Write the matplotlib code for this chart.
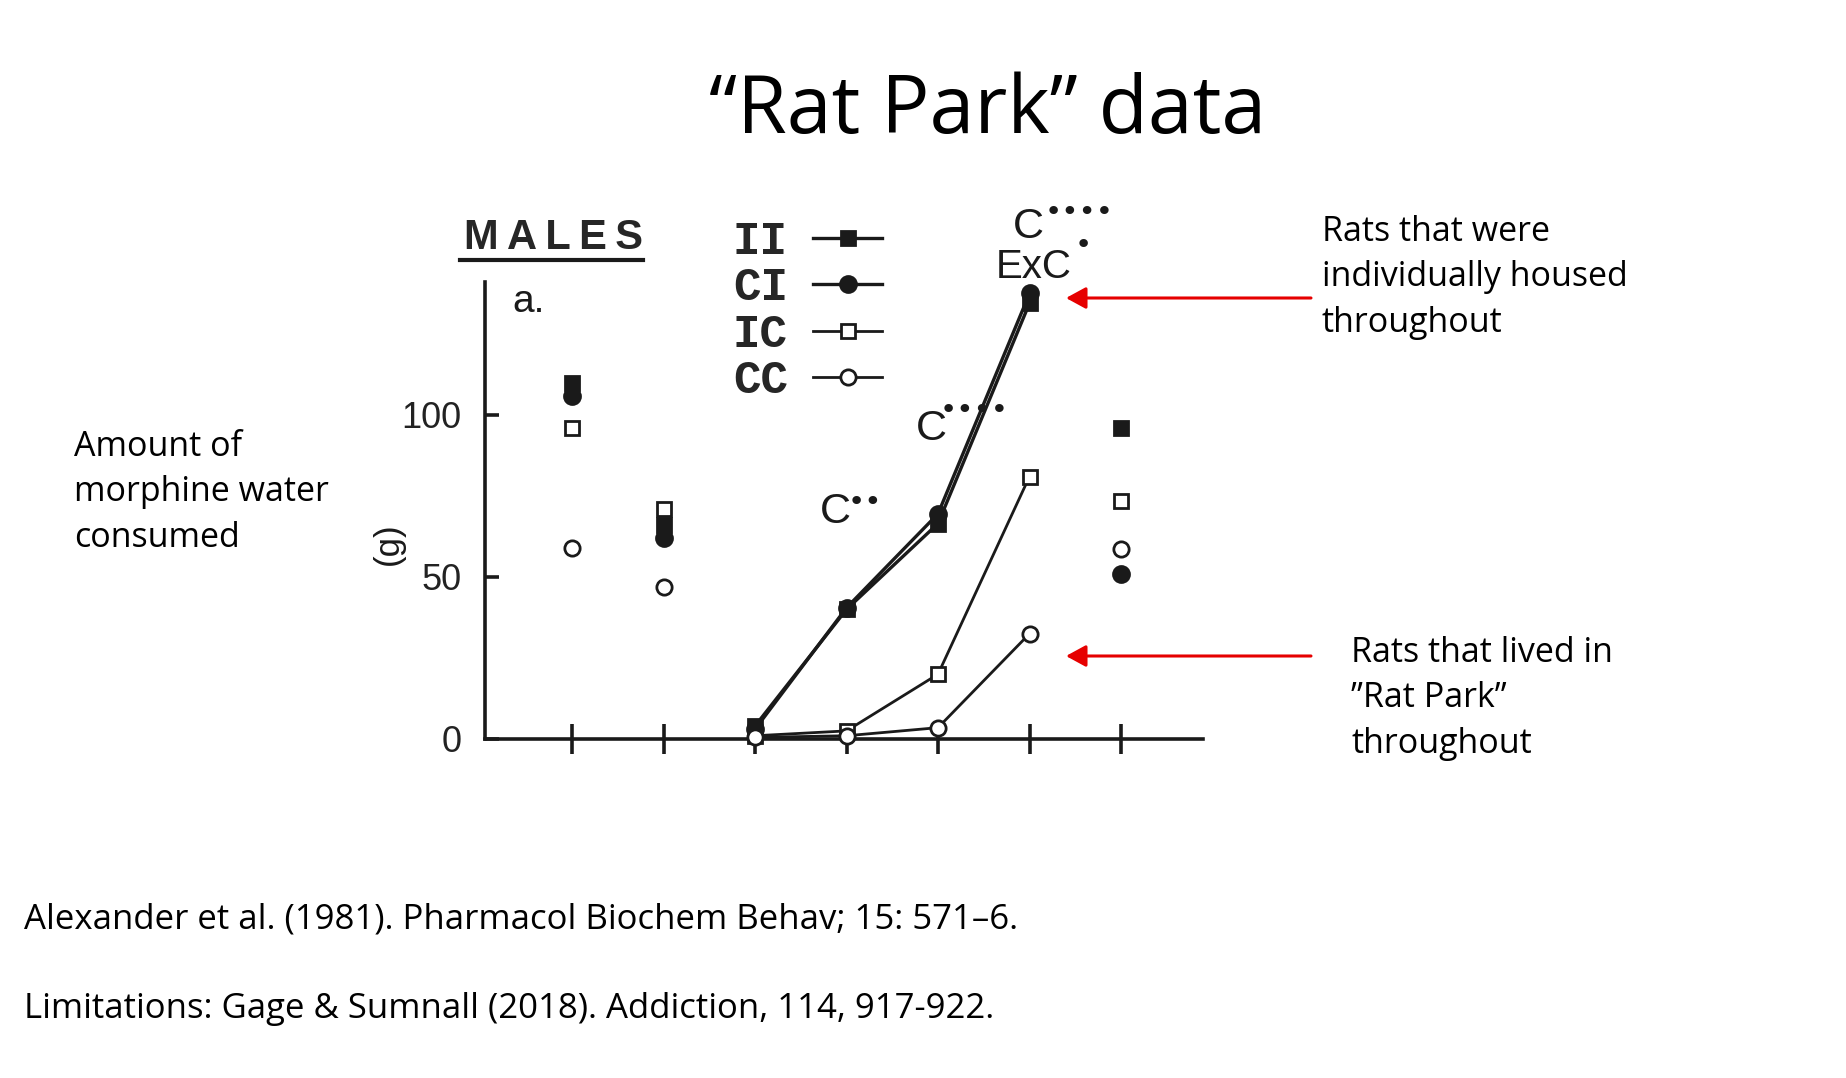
import numpy as np
import matplotlib
matplotlib.use("Agg")
import matplotlib.pyplot as plt
from matplotlib.lines import Line2D
from matplotlib.patches import FancyArrowPatch

# measurement days on the x axis
days = [1, 2, 3, 4, 5, 6, 7]
groups = ["II", "CI", "IC", "CC"]
# morphine water consumed (g)
ii_vals = [110, 66, 4, 40, 66.5, 134.5, 96]
ci_vals = [106, 62, 3, 40.5, 69.5, 137.5, 51]
ic_vals = [96, 71, 1, 2.5, 20, 81, 73.5]
cc_vals = [59, 47, 0.5, 1, 3.5, 32.5, 58.5]
yticks = [0, 50, 100]

W, H = 1846, 1078
SLIDE_FONT = ["Open Sans", "DejaVu Sans"]
SCAN_FONT = ["Liberation Sans", "DejaVu Sans"]
INK = "#1a1a1a"


def fx(px):
    return px / W


def fy(py):
    return 1 - py / H


fig = plt.figure(figsize=(W / 100, H / 100), dpi=100)
fig.patch.set_facecolor("white")

# --- axes placed where the scanned plot sits on the slide
x0_px, xu = 480.5, 91.5
y0_px, yu = 739, 3.24
xlo, xhi = 0.05, 7.9
ylo, yhi = 0, 141
ax = fig.add_axes([fx(x0_px + xlo * xu), fy(y0_px),
                   (xhi - xlo) * xu / W, (yhi - ylo) * yu / H])
ax.set_xlim(xlo, xhi)
ax.set_ylim(ylo, yhi)
ax.set_facecolor("none")
for s in ["top", "right"]:
    ax.spines[s].set_visible(False)
for s in ["left", "bottom"]:
    ax.spines[s].set_linewidth(2.6)
    ax.spines[s].set_color(INK)

ax.set_xticks(days)
ax.set_xticklabels([])
ax.tick_params(axis="x", direction="inout", length=22, width=2.6, color=INK)
ax.set_yticks(yticks)
ax.set_yticklabels([str(v) for v in yticks], family=SCAN_FONT)
ax.tick_params(axis="y", direction="in", length=10, width=2.6, color=INK,
               pad=17, labelsize=26, labelcolor="#222222")

series = {"II": ii_vals, "CI": ci_vals, "IC": ic_vals, "CC": cc_vals}
style = {
    "II": dict(marker="s", mfc=INK, lw=2.4, ms=10.5, z=5),
    "CI": dict(marker="o", mfc=INK, lw=2.4, ms=11.5, z=5),
    "IC": dict(marker="s", mfc="white", lw=2.0, ms=10, z=6),
    "CC": dict(marker="o", mfc="white", lw=2.0, ms=11, z=6),
}
x = np.array(days)
joined = slice(2, 6)
lone = [0, 1, 6]
handles = []
for g in groups:
    v = np.array(series[g], dtype=float)
    st = style[g]
    h, = ax.plot(x[joined], v[joined], color=INK, lw=st["lw"], marker=st["marker"],
                 mfc=st["mfc"], mec=INK, mew=2, ms=st["ms"], clip_on=False,
                 zorder=st["z"], label=g)
    ax.plot(x[lone], v[lone], ls="none", marker=st["marker"], mfc=st["mfc"],
            mec=INK, mew=2, ms=st["ms"], clip_on=False, zorder=st["z"])
    handles.append(h)

leg = fig.legend(handles=handles, labels=groups, loc="upper left",
                 bbox_to_anchor=(fx(733), fy(220)), frameon=False,
                 markerfirst=False, borderpad=0, borderaxespad=0,
                 handlelength=1.5, handletextpad=0.55, labelspacing=0.05,
                 prop=dict(family=["Liberation Mono", "DejaVu Sans Mono"],
                           size=33, weight="bold"))
for t in leg.get_texts():
    t.set_color("#262626")

# --- scanned figure annotations
fig.text(fx(464), fy(249), "M\u2009A\u2009L\u2009E\u2009S", family=SCAN_FONT,
         fontsize=30, fontweight="bold", color="#262626", va="baseline", ha="left")
fig.add_artist(Line2D([fx(460), fx(643)], [fy(260), fy(260)], color=INK, lw=3))
fig.text(fx(512), fy(312), "a.", family=SCAN_FONT, fontsize=28, color=INK,
         va="baseline", ha="left")
fig.text(fx(388), fy(544), "(g)", family=SCAN_FONT, fontsize=25, color=INK,
         rotation=90, va="center", ha="center")

DOT_FONT = ["DejaVu Sans"]
notes = [
    # (text, left px, baseline px, size)
    ("C", 820, 523, 31),
    ("C", 916, 440, 31),
    ("C", 1013, 238, 31),
    ("ExC", 996, 278, 29),
]
for txt, lx, by, sz in notes:
    fig.text(fx(lx), fy(by), txt, family=SCAN_FONT, fontsize=sz, color=INK,
             va="baseline", ha="left")
stars = [
    # (dots, left px, centre px)
    ("\u2022\u2022", 848, 499),
    ("\u2022\u2022\u2022\u2022", 940, 407),
    ("\u2022\u2022\u2022\u2022", 1045, 209),
    ("\u2022", 1075, 242),
]
for txt, lx, cy in stars:
    fig.text(fx(lx), fy(cy), txt, family=DOT_FONT, fontsize=21, color=INK,
             va="center_baseline", ha="left")

# --- slide text
fig.text(fx(988), fy(133), "\u201cRat Park\u201d data", family=SLIDE_FONT,
         fontsize=58, color="black", ha="center", va="baseline")
fig.text(fx(74), fy(547), "Amount of\nmorphine water\nconsumed", family=SLIDE_FONT,
         fontsize=24.5, color="black", ha="left", va="baseline", linespacing=1.45)
fig.text(fx(1322), fy(332), "Rats that were\nindividually housed\nthroughout",
         family=SLIDE_FONT, fontsize=24.5, color="black", ha="left", va="baseline",
         linespacing=1.45)
fig.text(fx(1351), fy(753), "Rats that lived in\n\u201dRat Park\u201d\nthroughout",
         family=SLIDE_FONT, fontsize=24.5, color="black", ha="left", va="baseline",
         linespacing=1.45)
fig.text(fx(24), fy(928), "Alexander et al. (1981). Pharmacol Biochem Behav; 15: 571\u20136.",
         family=SLIDE_FONT, fontsize=25, color="black", ha="left", va="baseline")
fig.text(fx(24), fy(1018), "Limitations: Gage & Sumnall (2018). Addiction, 114, 917-922.",
         family=SLIDE_FONT, fontsize=25, color="black", ha="left", va="baseline")

# --- red arrows pointing at the two groups
for yy in [298, 656]:
    fig.add_artist(FancyArrowPatch(
        (fx(1311), fy(yy)), (fx(1066), fy(yy)), transform=fig.transFigure,
        arrowstyle="-|>,head_length=0.55,head_width=0.3", mutation_scale=22,
        color="#e60000", lw=2.2, shrinkA=0, shrinkB=0))

fig.savefig("out.png", dpi=100, facecolor="white")
